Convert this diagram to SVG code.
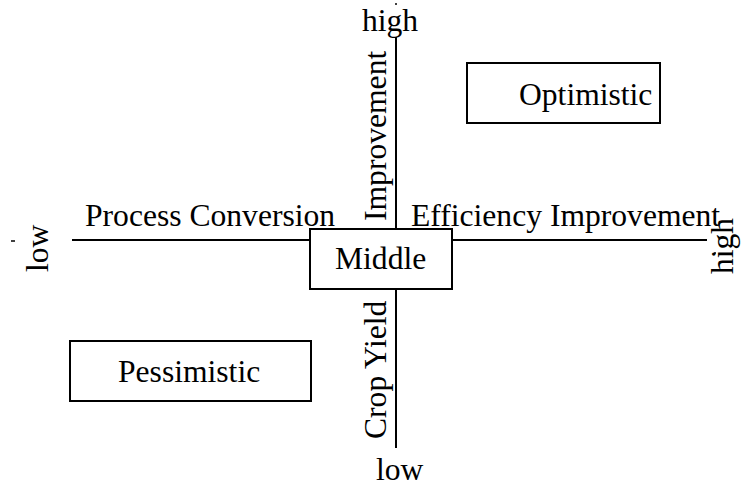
<svg xmlns="http://www.w3.org/2000/svg" width="755" height="486" viewBox="0 0 755 486">
  <style>
    text { font-family: "Liberation Serif", "Times New Roman", serif; font-size: 31.6px; fill: #000; }
    .box { fill: #fff; stroke: #000; stroke-width: 2; }
    .axis { stroke: #000; stroke-width: 2; fill: none; }
  </style>
  <rect width="755" height="486" fill="#fff"/>

  <!-- axes -->
  <g id="connectors">
    <line class="axis" x1="72" y1="240" x2="707" y2="240"/>
    <line class="axis" x1="396" y1="37" x2="396" y2="448"/>
  </g>

  <!-- axis labels -->
  <g id="axis-labels">
    <text x="362" y="31">high</text>
    <text x="376" y="480">low</text>
    <text transform="translate(48,272) rotate(-90)">low</text>
    <text transform="translate(733,274) rotate(-90)">high</text>
    <text x="85" y="226">Process Conversion</text>
    <text x="411" y="226">Efficiency Improvement</text>
    <text transform="translate(386,221) rotate(-90)">Improvement</text>
    <text transform="translate(386,439) rotate(-90)">Crop Yield</text>
    <line x1="11" y1="241" x2="15" y2="241" stroke="#000" stroke-width="1.5"/>
    <circle cx="396" cy="4" r="1" fill="#000"/>
    <circle cx="715" cy="253" r="1" fill="#000"/>
  </g>

  <g id="middle">
    <rect class="box" x="310" y="229" width="142" height="60"/>
    <text x="335" y="269">Middle</text>
  </g>

  <g id="optimistic">
    <rect class="box" x="467" y="63" width="193" height="60"/>
    <text x="519" y="105">Optimistic</text>
  </g>

  <g id="pessimistic">
    <rect class="box" x="70" y="341" width="241" height="60"/>
    <text x="118" y="382">Pessimistic</text>
  </g>
</svg>
